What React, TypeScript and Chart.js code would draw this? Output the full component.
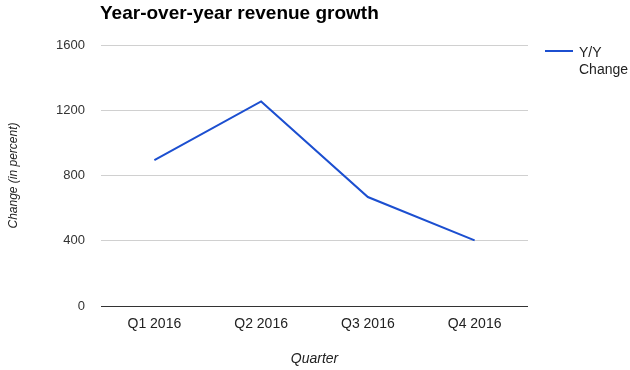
import React, { useEffect, useRef } from "react";
import { Chart, registerables } from "chart.js";

Chart.register(...registerables);

const quarters = ["Q1 2016", "Q2 2016", "Q3 2016", "Q4 2016"];
const yoyChange = [894, 1254, 668, 402];
const yTicks = [0, 400, 800, 1200, 1600];
const seriesLabel = ["Y/Y", "Change"];
const chartTitle = "Year-over-year revenue growth";
const xTitle = "Quarter";
const yTitle = "Change (in percent)";

const FONT = "Arial, 'Liberation Sans', sans-serif";
const LINE_COLOR = "#1c4fd0";

const overlay = {
  id: "overlay",
  afterDraw(chart: any) {
    const ctx = chart.ctx;
    ctx.save();
    // title
    ctx.fillStyle = "#000";
    ctx.font = `bold 19px ${FONT}`;
    ctx.textAlign = "left";
    ctx.textBaseline = "alphabetic";
    ctx.fillText(chartTitle, 100, 19);
    // legend
    ctx.strokeStyle = LINE_COLOR;
    ctx.lineWidth = 2;
    ctx.beginPath();
    ctx.moveTo(545, 51);
    ctx.lineTo(573, 51);
    ctx.stroke();
    ctx.fillStyle = "#222";
    ctx.font = `14px ${FONT}`;
    seriesLabel.forEach((t, i) => ctx.fillText(t, 579, 57 + i * 17));
    ctx.restore();
  },
};

export default function App() {
  const ref = useRef<HTMLCanvasElement>(null);
  useEffect(() => {
    document.body.style.margin = "0";
    const chart = new Chart(ref.current!, {
      type: "line",
      data: {
        labels: quarters,
        datasets: [
          {
            label: seriesLabel.join(" "),
            data: yoyChange,
            borderColor: LINE_COLOR,
            borderWidth: 2,
            pointRadius: 0,
            tension: 0,
            fill: false,
          },
        ],
      },
      options: {
        responsive: false,
        animation: false,
        layout: { padding: { top: 45, right: 102, bottom: 0, left: 0 } },
        plugins: {
          legend: { display: false },
          title: { display: false },
          tooltip: { enabled: false },
        },
        scales: {
          x: {
            offset: true,
            grid: { display: false, drawTicks: false },
            border: { display: false },
            ticks: { color: "#222", font: { family: FONT, size: 14 }, padding: 10 },
            title: {
              display: true,
              text: xTitle,
              color: "#222",
              font: { family: FONT, size: 14, style: "italic" },
              padding: { top: 0, bottom: 2 },
            },
            afterFit: (s: any) => {
              s.height = 64;
            },
          },
          y: {
            min: 0,
            max: 1600,
            afterBuildTicks: (s: any) => {
              s.ticks = yTicks.map((v) => ({ value: v }));
            },
            grid: {
              drawTicks: false,
              color: (c: any) => (c.tick && c.tick.value === 0 ? "#333" : "#d0d0d0"),
              lineWidth: 1,
            },
            border: { display: false },
            ticks: {
              color: "#333",
              font: { family: FONT, size: 13 },
              padding: 16,
              callback: (v: any) => String(v),
            },
            title: {
              display: true,
              text: yTitle,
              color: "#222",
              font: { family: FONT, size: 12, style: "italic" },
              padding: { top: 6, bottom: 0 },
            },
            afterFit: (s: any) => {
              s.width = 101;
            },
          },
        },
      },
      plugins: [overlay],
    });
    return () => chart.destroy();
  }, []);
  return <canvas ref={ref} width={630} height={370} style={{ display: "block" }} />;
}
